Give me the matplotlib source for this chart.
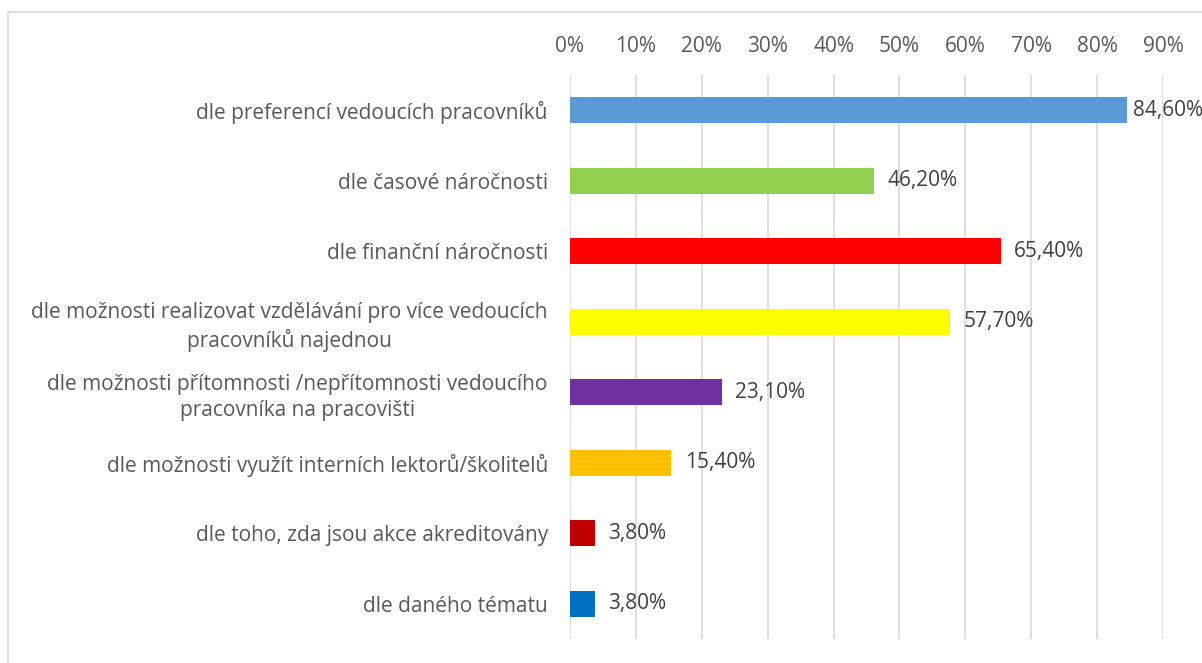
import matplotlib.pyplot as plt
from matplotlib.patches import Rectangle
from matplotlib.ticker import FuncFormatter

plt.rcParams['font.family'] = ['Open Sans', 'DejaVu Sans']

categories = [
    "dle preferencí vedoucích pracovníků",
    "dle časové náročnosti",
    "dle finanční náročnosti",
    "dle možnosti realizovat vzdělávání pro více vedoucích\npracovníků najednou",
    "dle možnosti přítomnosti /nepřítomnosti vedoucího\npracovníka na pracovišti",
    "dle možnosti využít interních lektorů/školitelů",
    "dle toho, zda jsou akce akreditovány",
    "dle daného tématu",
]
values = [0.846, 0.462, 0.654, 0.577, 0.231, 0.154, 0.038, 0.038]
colors = ["#5B9BD5", "#92D050", "#FF0000", "#FFFF00",
          "#7030A0", "#FFC000", "#C00000", "#0070C0"]
ticks = [i / 10 for i in range(10)]

text_color = "#404040"
grid_color = "#D9D9D9"

fig = plt.figure(figsize=(12.02, 6.63), dpi=100)
ax = fig.add_axes([570 / 1202, 1 - 639 / 663, (1163 - 570) / 1202, (639 - 75) / 663])

fig.patches.append(Rectangle((8 / 1202, -0.1), 1.2, 1 - 12 / 663 + 0.1,
                             transform=fig.transFigure, fill=False,
                             edgecolor=grid_color, linewidth=1.2))

ypos = list(range(len(categories)))
ax.barh(ypos, values, height=0.37, color=colors, zorder=3)

for y, v in zip(ypos, values):
    # labels near the right edge sit tighter to the bar, like Excel does
    offset = 0.008 if v > 0.8 else 0.02
    ax.text(v + offset, y, f"{v * 100:.2f}%".replace(".", ","), va="center",
            ha="left", fontsize=15, color=text_color, zorder=4, clip_on=False)

ax.set_xlim(0, 0.9)
ax.set_ylim(len(categories) - 0.5, -0.5)
ax.set_xticks(ticks)
ax.xaxis.set_major_formatter(FuncFormatter(lambda x, _: f"{x * 100:.0f}%"))
ax.xaxis.tick_top()
ax.tick_params(axis="x", length=0, pad=13, labelsize=15, labelcolor="#595959")
ax.set_yticks(ypos)
ax.set_yticklabels(categories, multialignment="center", linespacing=1.3)
ax.tick_params(axis="y", length=0, pad=16, labelsize=15, labelcolor="#595959")
ax.grid(axis="x", color=grid_color, linewidth=1.2, zorder=0)
for side in ax.spines.values():
    side.set_visible(False)

fig.savefig("out.png", dpi=100)
